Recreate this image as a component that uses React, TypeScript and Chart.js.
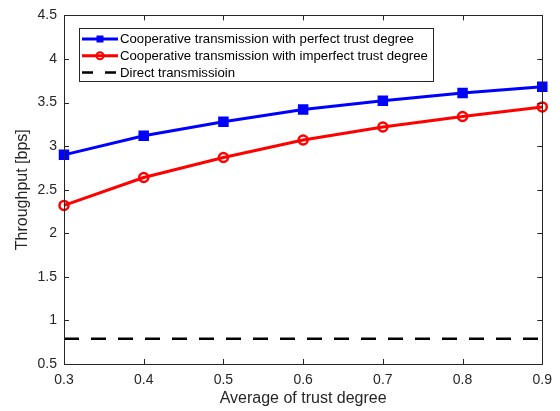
import React, { useEffect, useRef } from "react";
import { Chart, registerables } from "chart.js";

Chart.register(...registerables);

const FONT = '"Liberation Sans", Arial, Helvetica, sans-serif';
const AXIS_COLOR = "#262626";

const trustDegree = [0.3, 0.4, 0.5, 0.6, 0.7, 0.8, 0.9];
const perfectTrust = [2.9, 3.12, 3.28, 3.42, 3.52, 3.61, 3.68];
const imperfectTrust = [2.32, 2.64, 2.87, 3.07, 3.22, 3.34, 3.45];
const directTransmission = [0.79, 0.79, 0.79, 0.79, 0.79, 0.79, 0.79];

const seriesLabels = [
  "Cooperative transmission with perfect trust degree",
  "Cooperative transmission with imperfect trust degree",
  "Direct transmissioin",
];

const xAxisTitle = "Average of trust degree";
const yAxisTitle = "Throughput [bps]";
const xRange = [0.3, 0.9];
const yRange = [0.5, 4.5];
const xStep = 0.1;
const yStep = 0.5;

const framePlugin = {
  id: "matlabFrame",
  afterDatasetsDraw(chart: any) {
    const { ctx, chartArea: ca, scales } = chart;
    ctx.save();
    ctx.strokeStyle = AXIS_COLOR;
    ctx.lineWidth = 1;
    ctx.beginPath();
    const tl = 5;
    scales.x.ticks.forEach((t: any) => {
      const px = Math.round(scales.x.getPixelForValue(t.value)) + 0.5;
      ctx.moveTo(px, ca.bottom);
      ctx.lineTo(px, ca.bottom - tl);
      ctx.moveTo(px, ca.top);
      ctx.lineTo(px, ca.top + tl);
    });
    scales.y.ticks.forEach((t: any) => {
      const py = Math.round(scales.y.getPixelForValue(t.value)) + 0.5;
      ctx.moveTo(ca.left, py);
      ctx.lineTo(ca.left + tl, py);
      ctx.moveTo(ca.right, py);
      ctx.lineTo(ca.right - tl, py);
    });
    ctx.stroke();
    ctx.strokeRect(
      Math.round(ca.left) + 0.5,
      Math.round(ca.top) + 0.5,
      Math.round(ca.right - ca.left),
      Math.round(ca.bottom - ca.top)
    );
    ctx.restore();
  },
};

const legendPlugin = {
  id: "matlabLegend",
  afterDraw(chart: any) {
    const { ctx, chartArea: ca } = chart;
    const datasets = chart.data.datasets;
    ctx.save();
    ctx.font = `13.2px ${FONT}`;
    const textW = Math.max(...datasets.map((d: any) => ctx.measureText(d.label).width));
    const left = Math.round(ca.left) + 15;
    const top = Math.round(ca.top) + 13;
    const textX = left + 41;
    const w = Math.round(textX - left + textW + 5);
    const h = 53;
    ctx.fillStyle = "#ffffff";
    ctx.fillRect(left, top, w, h);
    ctx.strokeStyle = AXIS_COLOR;
    ctx.lineWidth = 1;
    ctx.strokeRect(left + 0.5, top + 0.5, w, h);
    datasets.forEach((d: any, i: number) => {
      const cy = top + 11 + i * 16.7;
      ctx.save();
      ctx.strokeStyle = d.borderColor;
      ctx.lineWidth = d.borderWidth;
      ctx.setLineDash(d.borderDash ? [11, 12] : []);
      ctx.beginPath();
      ctx.moveTo(left + 3, cy);
      ctx.lineTo(left + 39, cy);
      ctx.stroke();
      ctx.setLineDash([]);
      const mx = left + 21;
      if (d.pointStyle === "rect" && d.pointRadius > 0) {
        ctx.fillStyle = d.pointBackgroundColor;
        ctx.beginPath();
        ctx.rect(mx - 3.5, cy - 3.5, 7, 7);
        ctx.fill();
      } else if (d.pointStyle === "circle" && d.pointRadius > 0) {
        ctx.lineWidth = 2;
        ctx.strokeStyle = d.pointBorderColor;
        ctx.beginPath();
        ctx.arc(mx, cy, 3.5, 0, Math.PI * 2);
        ctx.stroke();
      }
      ctx.restore();
      ctx.fillStyle = "#000000";
      ctx.textBaseline = "middle";
      ctx.textAlign = "left";
      ctx.fillText(d.label, textX, cy + 0.5);
    });
    ctx.restore();
  },
};

function fmt(v: number) {
  const r = Math.round(v * 10) / 10;
  return Number.isInteger(r) ? String(r) : r.toFixed(1);
}

export default function App() {
  const canvasRef = useRef<HTMLCanvasElement | null>(null);

  useEffect(() => {
    const canvas = canvasRef.current;
    if (!canvas) return;
    const chart = new Chart(canvas, {
      type: "line",
      data: {
        labels: trustDegree,
        datasets: [
          {
            label: seriesLabels[0],
            data: trustDegree.map((x, i) => ({ x, y: perfectTrust[i] })),
            borderColor: "#0000ff",
            borderWidth: 3,
            pointStyle: "rect",
            pointRadius: 6,
            pointBackgroundColor: "#0000ff",
            pointBorderColor: "#0000ff",
            pointBorderWidth: 2,
            clip: false,
          } as any,
          {
            label: seriesLabels[1],
            data: trustDegree.map((x, i) => ({ x, y: imperfectTrust[i] })),
            borderColor: "#ff0000",
            borderWidth: 3,
            pointStyle: "circle",
            pointRadius: 4.5,
            pointBackgroundColor: "rgba(0,0,0,0)",
            pointBorderColor: "#ff0000",
            pointBorderWidth: 2.5,
            clip: false,
          } as any,
          {
            label: seriesLabels[2],
            data: trustDegree.map((x, i) => ({ x, y: directTransmission[i] })),
            borderColor: "#000000",
            borderWidth: 2.5,
            borderDash: [15, 12],
            pointRadius: 0,
            pointStyle: "none",
            clip: false,
          } as any,
        ],
      },
      options: {
        responsive: false,
        animation: false,
        events: [],
        layout: { padding: { left: 0, right: 12, top: 11, bottom: 0 } },
        plugins: {
          legend: { display: false },
          tooltip: { enabled: false },
        },
        scales: {
          x: {
            type: "linear",
            min: xRange[0],
            max: xRange[1],
            grid: { display: false, drawTicks: false },
            border: { display: false },
            afterFit: (s: any) => {
              s.height = 47;
            },
            ticks: {
              stepSize: xStep,
              padding: 8,
              color: AXIS_COLOR,
              font: { family: FONT, size: 14 },
              callback: (v: any) => fmt(Number(v)),
            },
            title: {
              display: true,
              text: xAxisTitle,
              color: AXIS_COLOR,
              font: { family: FONT, size: 16 },
              padding: { top: 0, bottom: 2.5 },
            },
          },
          y: {
            type: "linear",
            min: yRange[0],
            max: yRange[1],
            grid: { display: false, drawTicks: false },
            border: { display: false },
            afterFit: (s: any) => {
              s.width = 64;
            },
            ticks: {
              stepSize: yStep,
              padding: 7,
              color: AXIS_COLOR,
              font: { family: FONT, size: 14 },
              callback: (v: any) => fmt(Number(v)),
            },
            title: {
              display: true,
              text: yAxisTitle,
              color: AXIS_COLOR,
              font: { family: FONT, size: 16 },
              padding: { top: 13, bottom: 0 },
            },
          },
        },
      } as any,
      plugins: [framePlugin, legendPlugin],
    });
    return () => chart.destroy();
  }, []);

  return (
    <div
      style={{
        position: "fixed",
        left: 0,
        top: 0,
        width: 560,
        height: 411,
        background: "#ffffff",
      }}
    >
      <canvas ref={canvasRef} width={560} height={411} />
    </div>
  );
}
